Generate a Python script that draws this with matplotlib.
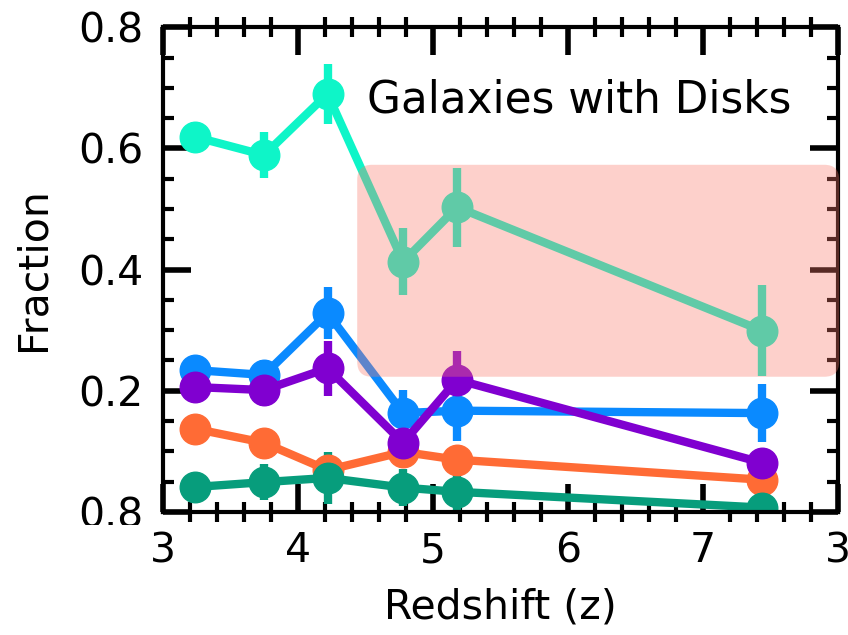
import matplotlib
matplotlib.use('Agg')
import matplotlib.pyplot as plt
from matplotlib.patches import FancyBboxPatch
from matplotlib.transforms import Bbox, TransformedBbox
from matplotlib.ticker import MultipleLocator

# --- dados ---
redshift = [3.24, 3.75, 4.22, 4.78, 5.18, 7.44]

frac_disco = [0.619, 0.589, 0.690, 0.413, 0.503, 0.299]
err_disco = [0.025, 0.038, 0.050, 0.055, 0.065, 0.075]

frac_azul = [0.234, 0.226, 0.328, 0.163, 0.167, 0.163]
err_azul = [0.010, 0.025, 0.043, 0.038, 0.050, 0.048]

frac_roxo = [0.206, 0.201, 0.237, 0.114, 0.218, 0.081]
err_roxo = [0.010, 0.026, 0.045, 0.036, 0.047, 0.020]

frac_laranja = [0.137, 0.114, 0.069, 0.099, 0.086, 0.053]
err_laranja = [0.008, 0.008, 0.010, 0.010, 0.010, 0.008]

frac_verde = [0.041, 0.049, 0.056, 0.040, 0.033, 0.007]
err_verde = [0.008, 0.030, 0.043, 0.030, 0.037, 0.025]

xticks = [3, 4, 5, 6, 7, 8]
xtick_labels = ['3', '4', '5', '6', '7', '3']
yticks = [0.0, 0.2, 0.4, 0.6, 0.8]
ytick_labels = ['0.8', '0.2', '0.4', '0.6', '0.8']

fig = plt.figure(figsize=(8.48, 6.35), dpi=100)
ax = fig.add_axes([0.192, 0.194, 0.796, 0.763])

def serie(y, e, cor):
    ax.errorbar(redshift, y, yerr=e, fmt='o-', color=cor, ms=22, lw=6,
                elinewidth=6, capsize=0)

serie(frac_laranja, err_laranja, '#ff6b35')
serie(frac_verde, err_verde, '#079d7c')
serie(frac_azul, err_azul, '#0a8aff')
serie(frac_roxo, err_roxo, '#8000d0')
serie(frac_disco, err_disco, '#0ef5c8')

# caixa destacada (por cima das linhas)
caixa = FancyBboxPatch((4.44, 0.223), 8.01 - 4.44, 0.573 - 0.223,
                       boxstyle='round,pad=0,rounding_size=0.11',
                       mutation_aspect=0.223, facecolor='#fa7b6c',
                       edgecolor='none', alpha=0.35, zorder=6, clip_on=False)
ax.add_patch(caixa)

ax.text(4.51, 0.68, 'Galaxies with Disks', fontsize=31.5, ha='left', va='center')

ax.set_xlim(3, 8)
ax.set_ylim(0, 0.8)
ax.set_xticks(xticks)
ax.set_xticklabels(xtick_labels)
ax.set_yticks(yticks)
ax.set_yticklabels(ytick_labels)
ax.xaxis.set_minor_locator(MultipleLocator(0.2))
ax.yaxis.set_minor_locator(MultipleLocator(0.05))

for s in ax.spines.values():
    s.set_linewidth(3)
ax.tick_params(which='major', direction='in', length=20, width=4,
               top=True, right=True, labelsize=29.5, pad=14)
ax.tick_params(which='minor', direction='in', length=8, width=3,
               top=True, right=True)
ax.tick_params(axis='x', which='minor', direction='inout', length=14)

ax.set_xlabel('Redshift (z)', fontsize=29.5, labelpad=12)
ax.set_ylabel('Fraction', fontsize=29.5, labelpad=18)

# o rotulo de baixo aparece cortado pela metade na figura original
fig.canvas.draw()
rot = ax.yaxis.get_major_ticks()[0].label1
rot.set_clip_on(True)
rot.set_clip_box(TransformedBbox(Bbox.from_extents(0, 110 / 635, 1, 1), fig.transFigure))

fig.savefig('out.png', dpi=100)
